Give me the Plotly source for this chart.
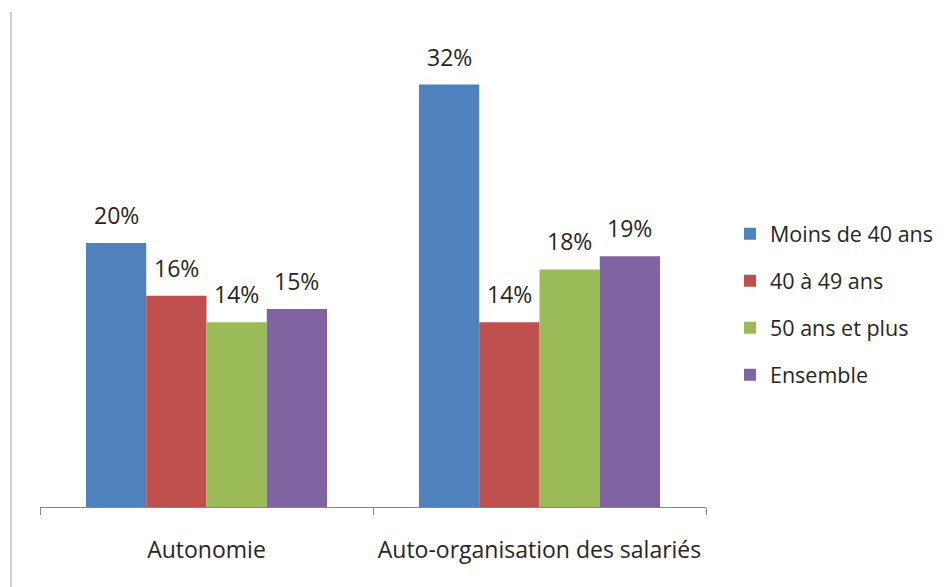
import plotly.graph_objects as go

categories = ["Autonomie", "Auto-organisation des salariés"]
series_names = ["Moins de 40 ans", "40 à 49 ans", "50 ans et plus", "Ensemble"]
moins_40 = [20, 32]
de_40_a_49 = [16, 14]
plus_50 = [14, 18]
ensemble = [15, 19]
colors = ["#4F81BD", "#C0504D", "#9BBB59", "#8064A2"]

series = [moins_40, de_40_a_49, plus_50, ensemble]
bargap = 0.276
font = "'Open Sans', 'Noto Sans', sans-serif"
txt = "#262626"
fs = 23

fig = go.Figure()
for i, (name, vals) in enumerate(zip(series_names, series)):
    fig.add_trace(go.Bar(
        name=name, x=categories, y=vals,
        marker=dict(color=colors[i], line=dict(width=0)),
        legendgroup=name,
    ))

# data labels above each bar
w = (1 - bargap) / len(series)
for i, vals in enumerate(series):
    for ci, v in enumerate(vals):
        fig.add_annotation(
            x=ci + (i - 1.5) * w, y=v, xref="x", yref="y",
            text=f"{v}%", showarrow=False, yanchor="bottom", yshift=10,
            font=dict(family=font, size=fs, color=txt),
        )

# left border line of the chart frame
fig.add_shape(type="line", xref="paper", yref="paper",
              x0=-29 / 666, x1=-29 / 666, y0=-88 / 467, y1=1.06,
              line=dict(color="#BFBFBF", width=1.5))

# page body has an 8px margin, so offsets are compensated here
fig.update_layout(
    width=948, height=587,
    margin=dict(l=32, r=250, t=32, b=88, autoexpand=False),
    paper_bgcolor="white", plot_bgcolor="white",
    barmode="group", bargap=bargap, bargroupgap=0,
    font=dict(family=font, size=fs, color=txt),
    showlegend=True,
    legend=dict(x=1.036, xanchor="left", y=0.434, yanchor="middle",
                font=dict(family=font, size=21.5, color=txt),
                tracegroupgap=16, itemwidth=30, bgcolor="rgba(0,0,0,0)"),
)
fig.update_xaxes(
    showline=True, linecolor="#868686", linewidth=1,
    ticks="outside", tickson="boundaries", ticklen=7, tickcolor="#868686",
    ticklabelstandoff=22, showgrid=False, tickangle=0, automargin=False,
    tickfont=dict(family=font, size=fs, color=txt),
)
fig.update_yaxes(visible=False, range=[0, 467 / 13.2], showgrid=False)

fig.write_html("out.html")
